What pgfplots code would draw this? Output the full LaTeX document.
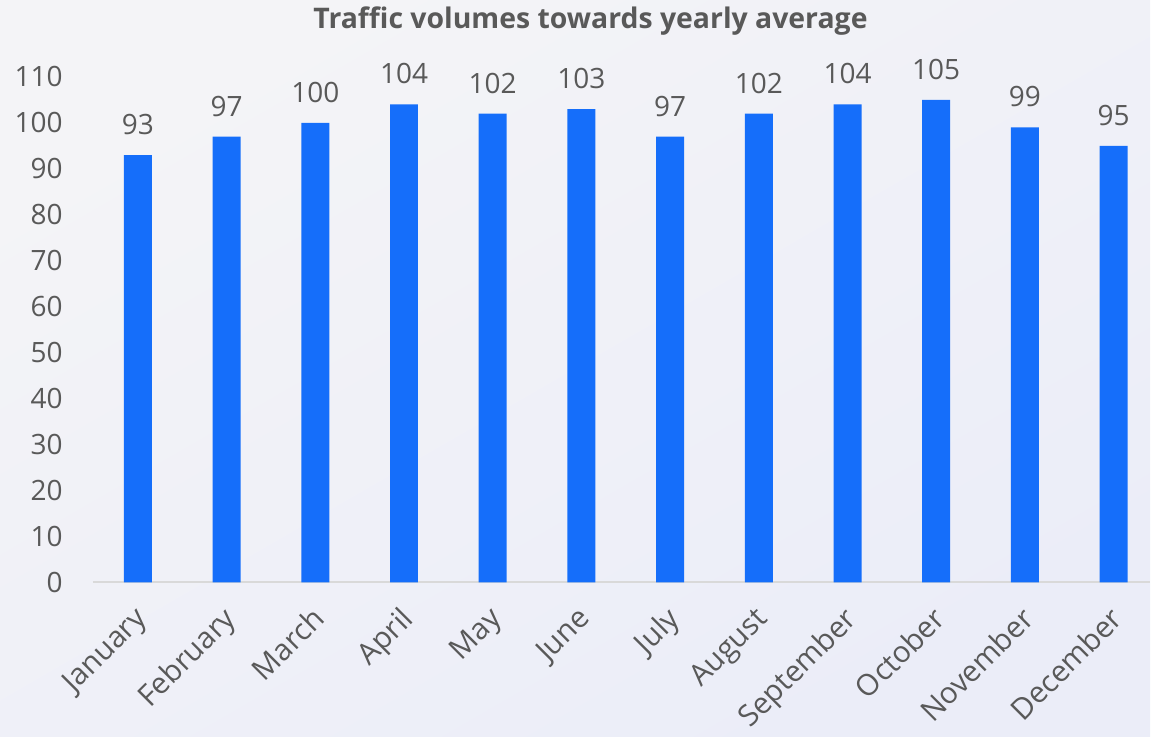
\documentclass[border=0pt]{standalone}
\usepackage{pgfplots}
\pgfplotsset{compat=1.18}
\usepackage{fontspec}
\setmainfont{Open Sans}
\definecolor{bg}{HTML}{F4F4F7}
\definecolor{bg2}{HTML}{EBEDF8}
\definecolor{barc}{HTML}{156EFA}
\definecolor{txt}{HTML}{595959}
\definecolor{axl}{HTML}{D9D9D9}
\begin{document}
\begin{tikzpicture}[x=1pt,y=1pt]
\shade[top color=bg, bottom color=bg2, shading angle=30] (0,0) rectangle (575.5,368.5);
\node[font=\fontsize{14.2}{16}\selectfont\bfseries, text=txt] at (295.5,358) {Traffic volumes towards yearly average};
\begin{axis}[at={(46.5pt,77pt)}, anchor=south west, scale only axis,
  width=529pt, height=253pt,
  xmin=-0.507, xmax=11.41, ymin=0, ymax=110,
  ytick={0,10,...,110},
  xtick={0,...,11},
  xticklabels={January,February,March,April,May,June,July,August,September,October,November,December},
  axis lines*=left,
  y axis line style={draw=none},
  x axis line style={axl, line width=1pt},
  major tick length=0pt,
  clip=false,
  yticklabel style={font=\fontsize{14}{16}\selectfont, text=txt, anchor=east, inner sep=0pt, xshift=-15pt},
  xticklabel style={font=\fontsize{14.8}{16}\selectfont, text=txt, inner sep=0pt, anchor=north east, xshift=-2.5pt, yshift=-11pt, rotate=45},
  /pgf/number format/assume math mode=true,
  ybar, bar width=14pt,
  nodes near coords,
  every node near coord/.append style={font=\fontsize{14}{16}\selectfont, text=txt, inner sep=0pt, anchor=south, yshift=10pt},
]
\addplot[fill=barc, draw=none] coordinates {(0,93) (1,97) (2,100) (3,104) (4,102) (5,103) (6,97) (7,102) (8,104) (9,105) (10,99) (11,95)};
\end{axis}
\end{tikzpicture}
\end{document}
